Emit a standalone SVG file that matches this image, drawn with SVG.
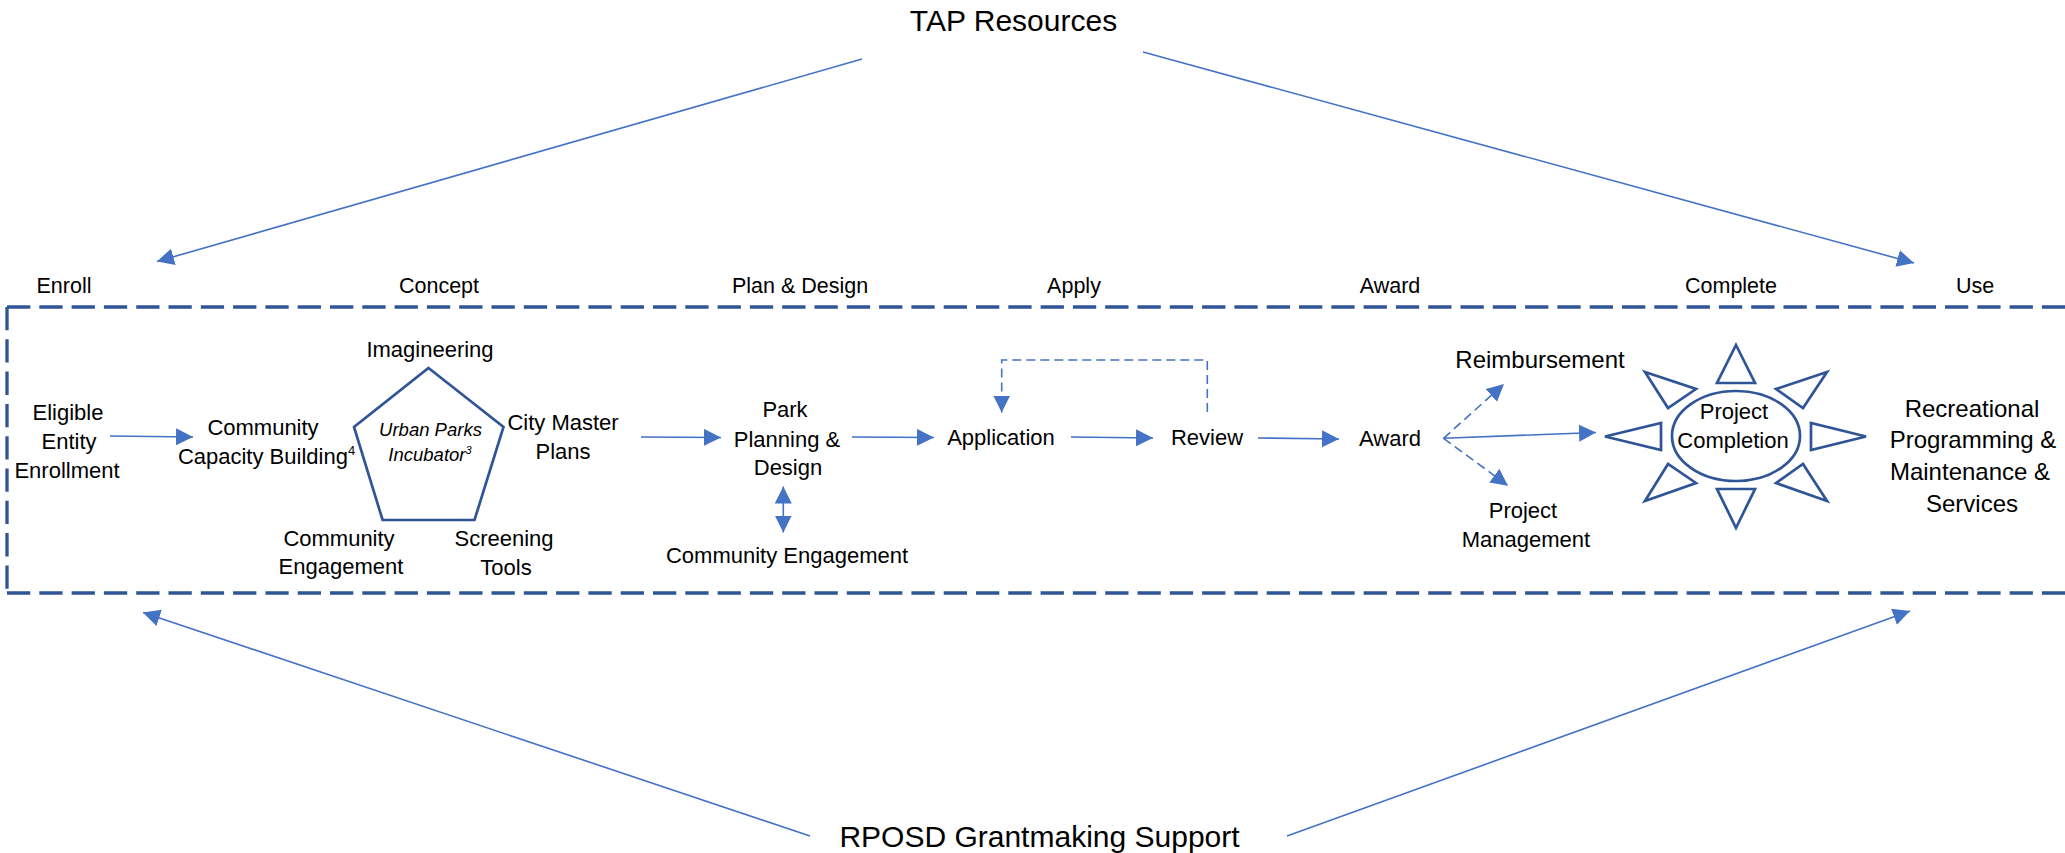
<svg xmlns="http://www.w3.org/2000/svg" width="2065" height="853" viewBox="0 0 2065 853">
<style>
text{font-family:"Liberation Sans",Arial,sans-serif;fill:#000;text-anchor:middle}
.t{font-size:22px}
.l{font-size:24px}
.h{font-size:21.5px}
.big{font-size:30px}
.it{font-size:18.5px;font-style:italic}
.ln{fill:none;stroke:#4472C4;stroke-width:1.6}
.dl{fill:none;stroke:#4472C4;stroke-width:1.6;stroke-dasharray:9 5}
.box{fill:none;stroke:#2F5597;stroke-width:3.3;stroke-dasharray:23.3 9}
.sh{fill:#fff;stroke:#2F5597;stroke-width:2.7;stroke-linejoin:miter}
</style>
<defs>
<marker id="ah" markerUnits="userSpaceOnUse" markerWidth="18" markerHeight="18" refX="17" refY="8.5" orient="auto">
<path d="M0,0 L17,8.5 L0,17 z" fill="#4472C4"/>
</marker>
<marker id="ahs" markerUnits="userSpaceOnUse" markerWidth="18" markerHeight="18" refX="17" refY="8.5" orient="auto-start-reverse">
<path d="M0,0 L17,8.5 L0,17 z" fill="#4472C4"/>
</marker>
</defs>
<rect width="2065" height="853" fill="#fff"/>
<g id="frame">
<line class="box" x1="7" y1="307" x2="2070" y2="307"/>
<line class="box" x1="7" y1="307" x2="7" y2="593"/>
<line class="box" x1="7" y1="593" x2="2070" y2="593"/>
</g>
<g id="connectors">
<line class="ln" x1="862" y1="59" x2="157" y2="261.5" marker-end="url(#ah)"/>
<line class="ln" x1="1143" y1="52" x2="1914" y2="263" marker-end="url(#ah)"/>
<line class="ln" x1="810" y1="836" x2="143" y2="612.5" marker-end="url(#ah)"/>
<line class="ln" x1="1287" y1="836" x2="1910" y2="611" marker-end="url(#ah)"/>
<line class="ln" x1="110" y1="436" x2="193" y2="437" marker-end="url(#ah)"/>
<line class="ln" x1="641" y1="437" x2="721" y2="437.5" marker-end="url(#ah)"/>
<line class="ln" x1="852" y1="437" x2="934" y2="437.5" marker-end="url(#ah)"/>
<line class="ln" x1="1071" y1="437" x2="1153" y2="438" marker-end="url(#ah)"/>
<line class="ln" x1="1258" y1="438" x2="1339" y2="439" marker-end="url(#ah)"/>
<line class="ln" x1="783.3" y1="486.5" x2="783.3" y2="532.5" marker-start="url(#ahs)" marker-end="url(#ah)"/>
<path class="dl" d="M1207.3,412 V360 H1001.7 V412.5" marker-end="url(#ah)"/>
<line class="dl" x1="1443.5" y1="438.3" x2="1504" y2="384" marker-end="url(#ah)"/>
<line class="dl" x1="1443.5" y1="438.3" x2="1508" y2="485.7" marker-end="url(#ah)"/>
<line class="ln" x1="1443.5" y1="438.3" x2="1596" y2="432.5" marker-end="url(#ah)"/>
</g>
<g id="tap-resources"><text class="big" x="1013.5" y="31">TAP Resources</text></g>
<g id="rposd"><text class="big" x="1039.5" y="847">RPOSD Grantmaking Support</text></g>
<g id="stage-labels">
<text class="h" x="64" y="293">Enroll</text>
<text class="h" x="439" y="293">Concept</text>
<text class="h" x="800" y="293">Plan &amp; Design</text>
<text class="h" x="1074" y="293">Apply</text>
<text class="h" x="1390" y="293">Award</text>
<text class="h" x="1731" y="293">Complete</text>
<text class="h" x="1975" y="293">Use</text>
</g>
<g id="eligible"><text class="t" x="68" y="420">Eligible</text><text class="t" x="69" y="449">Entity</text><text class="t" x="67" y="478">Enrollment</text></g>
<g id="capacity"><text class="t" x="263" y="435">Community</text><text class="t" x="266.5" y="464">Capacity Building<tspan dy="-9" font-size="13">4</tspan></text></g>
<g id="incubator">
<polygon class="sh" points="428.5,368 503.5,427 474.5,520 382.6,520 354,427"/>
<text class="it" x="430.5" y="436">Urban Parks</text>
<text class="it" x="430" y="461">Incubator<tspan dy="-7" font-size="11">3</tspan></text>
</g>
<g id="imagineering"><text class="t" x="430" y="357">Imagineering</text></g>
<g id="city-master"><text class="t" x="563" y="430">City Master</text><text class="t" x="563" y="459">Plans</text></g>
<g id="community-eng-1"><text class="t" x="339" y="546">Community</text><text class="t" x="341" y="574">Engagement</text></g>
<g id="screening"><text class="t" x="504" y="546">Screening</text><text class="t" x="506" y="575">Tools</text></g>
<g id="park"><text class="t" x="785" y="417">Park</text><text class="t" x="787" y="447">Planning &amp;</text><text class="t" x="788" y="475">Design</text></g>
<g id="community-eng-2"><text class="t" x="787" y="563">Community Engagement</text></g>
<g id="application"><text class="t" x="1001" y="445">Application</text></g>
<g id="review"><text class="t" x="1207" y="445">Review</text></g>
<g id="award"><text class="t" x="1390" y="446">Award</text></g>
<g id="reimbursement"><text class="l" x="1540" y="368">Reimbursement</text></g>
<g id="project-mgmt"><text class="t" x="1523" y="518">Project</text><text class="t" x="1526" y="547">Management</text></g>
<g id="completion">
<polygon class="sh" points="1736,345 1755,383 1717,383"/>
<polygon class="sh" points="1736,528 1755,489 1717,489"/>
<polygon class="sh" points="1605,436.5 1661,423 1661,450"/>
<polygon class="sh" points="1866,436.5 1811,423 1811,450"/>
<polygon class="sh" points="1645,372 1696,389 1668,408"/>
<polygon class="sh" points="1827,372 1776,389 1803,408"/>
<polygon class="sh" points="1645,501 1696,483 1668,464"/>
<polygon class="sh" points="1827,501 1776,483 1803,464"/>
<ellipse class="sh" cx="1736" cy="436" rx="64" ry="45"/>
<text class="t" x="1734" y="419">Project</text>
<text class="t" x="1733" y="448">Completion</text>
</g>
<g id="recreational"><text class="l" x="1972" y="417">Recreational</text><text class="l" x="1973" y="448">Programming &amp;</text><text class="l" x="1970" y="480">Maintenance &amp;</text><text class="l" x="1972" y="512">Services</text></g>
</svg>
